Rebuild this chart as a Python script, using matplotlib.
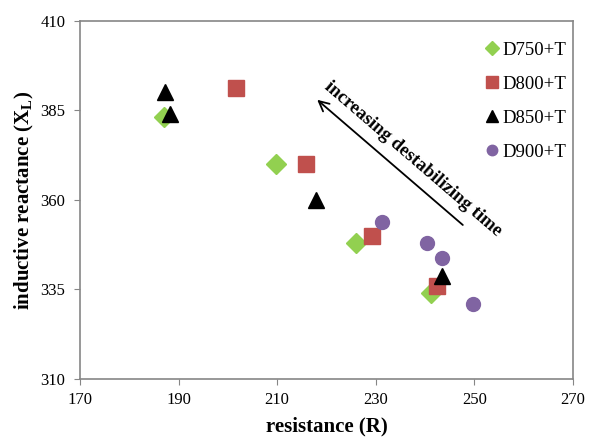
import matplotlib
matplotlib.use("Agg")

import matplotlib.pyplot as plt

# data
d750_r = [187.0, 209.7, 226.0, 241.3]
d750_x = [383.1, 370.0, 348.1, 334.1]
d800_r = [201.6, 215.8, 229.2, 242.5]
d800_x = [391.2, 370.0, 350.0, 336.0]
d850_r = [187.3, 188.3, 217.9, 243.4]
d850_x = [390.2, 384.0, 360.0, 338.8]
d900_r = [231.3, 240.4, 243.5, 249.7]
d900_x = [353.9, 347.9, 343.9, 330.9]

x_ticks = [170, 190, 210, 230, 250, 270]
y_ticks = [310, 335, 360, 385, 410]

plt.rcParams["font.family"] = ["Liberation Serif", "DejaVu Serif"]

fig = plt.figure(figsize=(5.93, 4.38), dpi=100)
ax = fig.add_axes([0.135, 0.135, 0.831, 0.817])

ax.plot(d750_r, d750_x, linestyle="none", marker="D", ms=10, color="#92D050", label="D750+T")
ax.plot(d800_r, d800_x, linestyle="none", marker="s", ms=11, color="#C0504D", label="D800+T")
ax.plot(d850_r, d850_x, linestyle="none", marker="^", ms=11, color="black", label="D850+T")
ax.plot(d900_r, d900_x, linestyle="none", marker="o", ms=10, color="#8064A2", label="D900+T")

ax.set_xlim(170, 270)
ax.set_ylim(310, 410)
ax.set_xticks(x_ticks)
ax.set_yticks(y_ticks)
ax.tick_params(direction="out", length=4.5, color="#868686", labelsize=12)
ax.tick_params(axis="y", pad=6)
ax.tick_params(axis="x", pad=5)
for s in ax.spines.values():
    s.set_color("#868686")
    s.set_linewidth(1.2)

ax.set_xlabel("resistance (R)", fontsize=15, fontweight="bold", labelpad=6)
ax.set_ylabel("inductive reactance (X$_\\mathregular{L}$)", fontsize=15,
              fontweight="bold", labelpad=3)

ax.annotate("", xy=(217.7, 388.5), xytext=(248.1, 352.5),
            arrowprops=dict(arrowstyle="->", color="black", lw=1.3, mutation_scale=18))
ax.text(237.5, 371.5, "increasing destabilizing time", rotation=-40.7,
        ha="center", va="center", fontsize=13.5, fontweight="bold",
        rotation_mode="anchor")

ax.legend(loc="upper left", bbox_to_anchor=(0.782, 0.99), frameon=False,
          fontsize=13.5, handletextpad=0.05, labelspacing=0.9, handlelength=1.0,
          markerscale=0.75)

fig.savefig("out.png", dpi=100)
